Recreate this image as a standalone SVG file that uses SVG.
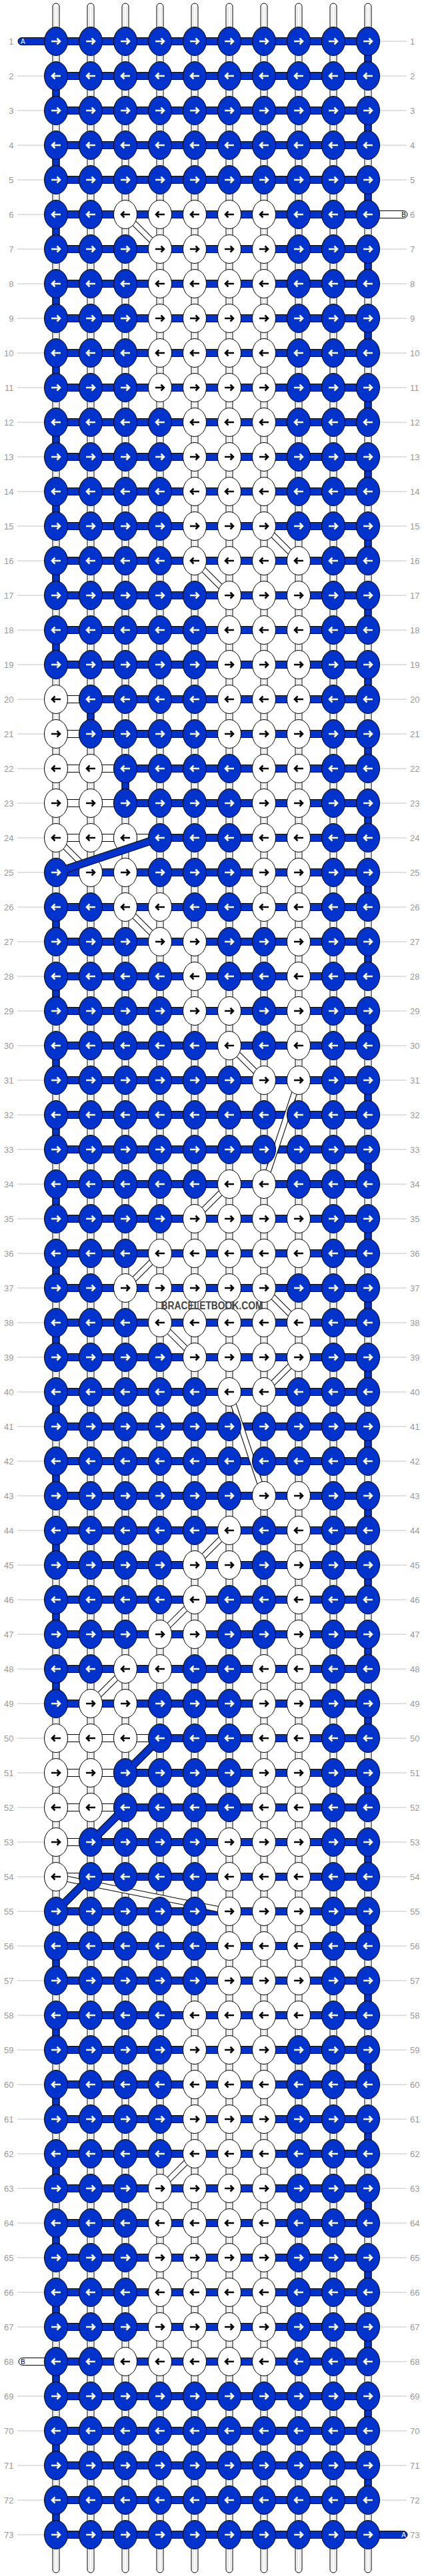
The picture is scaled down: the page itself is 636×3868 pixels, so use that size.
<svg xmlns="http://www.w3.org/2000/svg" width="636" height="3868" viewBox="0 0 636 3868">
<style>
.n{font-family:"Liberation Sans",Arial,sans-serif;font-size:13px;fill:#9a9a9a}
.e{text-anchor:end}
.ln{stroke:#c4c4c4;stroke-width:1;fill:none}
.blue{fill:#0033cc;stroke:#000;stroke-width:1}
.wt{fill:#fff;stroke:#000;stroke-width:1}
.tl{font-family:"Liberation Sans",Arial,sans-serif;font-size:10px}
</style>
<defs>
<path id="ar" d="M-7,0H6M1.5,-4.5L6,0L1.5,4.5" fill="none" stroke-width="2.6"/>
<g id="a"><ellipse rx="17.5" ry="21.5" class="blue"/><use href="#ar" stroke="#fff"/></g>
<g id="b"><ellipse rx="17.5" ry="21.5" class="blue"/><use href="#ar" stroke="#fff" transform="scale(-1,1)"/></g>
<g id="c"><ellipse rx="17.5" ry="21.5" class="wt"/><use href="#ar" stroke="#000"/></g>
<g id="d"><ellipse rx="17.5" ry="21.5" class="wt"/><use href="#ar" stroke="#000" transform="scale(-1,1)"/></g>
<g id="ra"><use href="#a" x="84"/><use href="#a" x="136"/><use href="#a" x="188"/><use href="#a" x="240"/><use href="#a" x="292"/><use href="#a" x="344"/><use href="#a" x="396"/><use href="#a" x="448"/><use href="#a" x="500"/><use href="#a" x="552"/></g>
<g id="rb"><use href="#b" x="84"/><use href="#b" x="136"/><use href="#b" x="188"/><use href="#b" x="240"/><use href="#b" x="292"/><use href="#b" x="344"/><use href="#b" x="396"/><use href="#b" x="448"/><use href="#b" x="500"/><use href="#b" x="552"/></g>
<path id="L" class="ln" d="M26,0H66M570,0H610"/>
<path id="dg" fill="none" d="M188,322L240,374M396,790L448,842M292,842L344,894M84,1258L136,1310M188,1362L240,1414M344,1570L396,1622M448,1622L396,1778M344,1778L292,1830M240,1882L188,1934M396,1934L448,1986M240,1986L292,2038M448,2038L396,2090M344,2090L396,2246M344,2298L292,2350M292,2402L240,2454M188,2506L136,2558M84,2818L344,2870M292,3234L240,3286"/>
<path id="tk" fill="none" d="M225,1263L99,1305M227.8,2622.2L200.2,2649.8M175.8,2726.2L148.2,2753.8M123.8,2830.2L96.2,2857.8"/>
</defs>
<rect width="636" height="3868" fill="#fff"/>
<g id="connectors">
<g id="vertical-threads">
<rect class="wt" x="79" y="5" width="10" height="3858" rx="5"/>
<rect class="wt" x="131" y="5" width="10" height="3858" rx="5"/>
<rect class="wt" x="183" y="5" width="10" height="3858" rx="5"/>
<rect class="wt" x="235" y="5" width="10" height="3858" rx="5"/>
<rect class="wt" x="287" y="5" width="10" height="3858" rx="5"/>
<rect class="wt" x="339" y="5" width="10" height="3858" rx="5"/>
<rect class="wt" x="391" y="5" width="10" height="3858" rx="5"/>
<rect class="wt" x="443" y="5" width="10" height="3858" rx="5"/>
<rect class="wt" x="495" y="5" width="10" height="3858" rx="5"/>
<rect class="wt" x="547" y="5" width="10" height="3858" rx="5"/>
<path stroke="#d0d0d0" stroke-width="1" fill="none" d="M82,10V3858M86,10V3858M134,10V3858M138,10V3858M186,10V3858M190,10V3858M238,10V3858M242,10V3858M290,10V3858M294,10V3858M342,10V3858M346,10V3858M394,10V3858M398,10V3858M446,10V3858M450,10V3858M498,10V3858M502,10V3858M550,10V3858M554,10V3858"/>
</g>
<g id="turns">
<path class="blue" d="M547,78h10v20h-10zm0,104h10v20h-10zm0,104h10v20h-10zm0,104h10v20h-10zm0,104h10v20h-10zm0,104h10v20h-10zm0,104h10v20h-10zm0,104h10v20h-10zm0,104h10v20h-10zm0,104h10v20h-10zm0,104h10v20h-10zm0,104h10v20h-10zm0,104h10v20h-10zm0,104h10v20h-10zm0,104h10v20h-10zm0,104h10v20h-10zm0,104h10v20h-10zm0,104h10v20h-10zm0,104h10v20h-10zm0,104h10v20h-10zm0,104h10v20h-10zm0,104h10v20h-10zm0,104h10v20h-10zm0,104h10v20h-10zm0,104h10v20h-10zm0,104h10v20h-10zm0,104h10v20h-10zm0,104h10v20h-10zm0,104h10v20h-10zm0,104h10v20h-10zm0,104h10v20h-10zm0,104h10v20h-10zm0,104h10v20h-10zm0,104h10v20h-10zm0,104h10v20h-10zm0,104h10v20h-10z"/>
<path class="blue" d="M79,130h10v20h-10zm0,104h10v20h-10zm0,104h10v20h-10zm0,104h10v20h-10zm0,104h10v20h-10zm0,104h10v20h-10zm0,104h10v20h-10zm0,104h10v20h-10zm0,104h10v20h-10zM131,1066h10v20h-10zM183,1170h10v20h-10zM79,1378h10v20h-10zm0,104h10v20h-10zm0,104h10v20h-10zm0,104h10v20h-10zm0,104h10v20h-10zm0,104h10v20h-10zm0,104h10v20h-10zm0,104h10v20h-10zm0,104h10v20h-10zm0,104h10v20h-10zm0,104h10v20h-10zm0,104h10v20h-10zM79,2938h10v20h-10zm0,104h10v20h-10zm0,104h10v20h-10zm0,104h10v20h-10zm0,104h10v20h-10zm0,104h10v20h-10zm0,104h10v20h-10zm0,104h10v20h-10zm0,104h10v20h-10z"/>
</g>
<g id="row-threads">
<path class="blue" d="M84,56.5h468v11h-468zm0,52h468v11h-468zm0,52h468v11h-468zm0,52h468v11h-468zm0,52h468v11h-468zm0,52h468v11h-468zm0,52h468v11h-468zm0,52h468v11h-468zm0,52h468v11h-468zm0,52h468v11h-468zm0,52h468v11h-468zm0,52h468v11h-468zm0,52h468v11h-468zm0,52h468v11h-468zm0,52h468v11h-468zm0,52h468v11h-468zm0,52h468v11h-468zm0,52h468v11h-468zm0,52h468v11h-468zm0,52h468v11h-468zm0,52h468v11h-468zm0,52h468v11h-468zm0,52h468v11h-468zm0,52h468v11h-468zm0,52h468v11h-468zm0,52h468v11h-468zm0,52h468v11h-468zm0,52h468v11h-468zm0,52h468v11h-468zm0,52h468v11h-468zm0,52h468v11h-468zm0,52h468v11h-468zm0,52h468v11h-468zm0,52h468v11h-468zm0,52h468v11h-468zm0,52h468v11h-468zm0,52h468v11h-468zm0,52h468v11h-468zm0,52h468v11h-468zm0,52h468v11h-468zm0,52h468v11h-468zm0,52h468v11h-468zm0,52h468v11h-468zm0,52h468v11h-468zm0,52h468v11h-468zm0,52h468v11h-468zm0,52h468v11h-468zm0,52h468v11h-468zm0,52h468v11h-468zm0,52h468v11h-468zm0,52h468v11h-468zm0,52h468v11h-468zm0,52h468v11h-468zm0,52h468v11h-468zm0,52h468v11h-468zm0,52h468v11h-468zm0,52h468v11h-468zm0,52h468v11h-468zm0,52h468v11h-468zm0,52h468v11h-468zm0,52h468v11h-468zm0,52h468v11h-468zm0,52h468v11h-468zm0,52h468v11h-468zm0,52h468v11h-468zm0,52h468v11h-468zm0,52h468v11h-468zm0,52h468v11h-468zm0,52h468v11h-468zm0,52h468v11h-468zm0,52h468v11h-468zm0,52h468v11h-468zm0,52h468v11h-468z"/>
<path class="wt" d="M84,1044.5h52v11h-52zM84,1096.5h52v11h-52zM84,1148.5h104v11h-104zM84,1200.5h104v11h-104zM84,1252.5h156v11h-156zM84,2604.5h156v11h-156zM84,2656.5h104v11h-104zM84,2708.5h104v11h-104zM84,2760.5h52v11h-52zM84,2812.5h52v11h-52z"/>
<g id="thread-A-start"><rect class="blue" x="27" y="56.5" width="53" height="11" rx="5.5"/><text class="tl" x="31" y="65.5" fill="#fff">A</text></g>
<g id="thread-B-right"><rect class="wt" x="556" y="316.5" width="55" height="11" rx="5.5"/><text class="tl" x="609" y="325.5" text-anchor="end" fill="#000">B</text></g>
<g id="thread-B-left"><rect class="wt" x="28" y="3540.5" width="52" height="11" rx="5.5"/><text class="tl" x="31" y="3549.5" fill="#000">B</text></g>
<g id="thread-A-end"><rect class="blue" x="556" y="3800.5" width="55" height="11" rx="5.5"/><text class="tl" x="609" y="3809.5" text-anchor="end" fill="#fff">A</text></g>
</g>
<g id="diagonals"><use href="#dg" stroke="#000" stroke-width="9"/><use href="#dg" stroke="#fff" stroke-width="7"/></g>
</g>
<g id="knots">
<g id="r1" transform="translate(0,62)"><path class="ln" d="M570,0H610"/><text class="n e" x="20.5" y="4.5">1</text><text class="n" x="615" y="4.5">1</text><use href="#ra"/></g>
<g id="r2" transform="translate(0,114)"><use href="#L"/><text class="n e" x="20.5" y="4.5">2</text><text class="n" x="615" y="4.5">2</text><use href="#rb"/></g>
<g id="r3" transform="translate(0,166)"><use href="#L"/><text class="n e" x="20.5" y="4.5">3</text><text class="n" x="615" y="4.5">3</text><use href="#ra"/></g>
<g id="r4" transform="translate(0,218)"><use href="#L"/><text class="n e" x="20.5" y="4.5">4</text><text class="n" x="615" y="4.5">4</text><use href="#rb"/></g>
<g id="r5" transform="translate(0,270)"><use href="#L"/><text class="n e" x="20.5" y="4.5">5</text><text class="n" x="615" y="4.5">5</text><use href="#ra"/></g>
<g id="r6" transform="translate(0,322)"><path class="ln" d="M26,0H66"/><text class="n e" x="20.5" y="4.5">6</text><text class="n" x="615" y="4.5">6</text><use href="#b" x="84"/><use href="#b" x="136"/><use href="#d" x="188"/><use href="#d" x="240"/><use href="#d" x="292"/><use href="#d" x="344"/><use href="#d" x="396"/><use href="#b" x="448"/><use href="#b" x="500"/><use href="#b" x="552"/></g>
<g id="r7" transform="translate(0,374)"><use href="#L"/><text class="n e" x="20.5" y="4.5">7</text><text class="n" x="615" y="4.5">7</text><use href="#a" x="84"/><use href="#a" x="136"/><use href="#a" x="188"/><use href="#c" x="240"/><use href="#c" x="292"/><use href="#c" x="344"/><use href="#c" x="396"/><use href="#a" x="448"/><use href="#a" x="500"/><use href="#a" x="552"/></g>
<g id="r8" transform="translate(0,426)"><use href="#L"/><text class="n e" x="20.5" y="4.5">8</text><text class="n" x="615" y="4.5">8</text><use href="#b" x="84"/><use href="#b" x="136"/><use href="#b" x="188"/><use href="#d" x="240"/><use href="#d" x="292"/><use href="#d" x="344"/><use href="#d" x="396"/><use href="#b" x="448"/><use href="#b" x="500"/><use href="#b" x="552"/></g>
<g id="r9" transform="translate(0,478)"><use href="#L"/><text class="n e" x="20.5" y="4.5">9</text><text class="n" x="615" y="4.5">9</text><use href="#a" x="84"/><use href="#a" x="136"/><use href="#a" x="188"/><use href="#c" x="240"/><use href="#c" x="292"/><use href="#c" x="344"/><use href="#c" x="396"/><use href="#a" x="448"/><use href="#a" x="500"/><use href="#a" x="552"/></g>
<g id="r10" transform="translate(0,530)"><use href="#L"/><text class="n e" x="20.5" y="4.5">10</text><text class="n" x="615" y="4.5">10</text><use href="#b" x="84"/><use href="#b" x="136"/><use href="#b" x="188"/><use href="#d" x="240"/><use href="#d" x="292"/><use href="#d" x="344"/><use href="#d" x="396"/><use href="#b" x="448"/><use href="#b" x="500"/><use href="#b" x="552"/></g>
<g id="r11" transform="translate(0,582)"><use href="#L"/><text class="n e" x="20.5" y="4.5">11</text><text class="n" x="615" y="4.5">11</text><use href="#a" x="84"/><use href="#a" x="136"/><use href="#a" x="188"/><use href="#c" x="240"/><use href="#c" x="292"/><use href="#c" x="344"/><use href="#c" x="396"/><use href="#a" x="448"/><use href="#a" x="500"/><use href="#a" x="552"/></g>
<g id="r12" transform="translate(0,634)"><use href="#L"/><text class="n e" x="20.5" y="4.5">12</text><text class="n" x="615" y="4.5">12</text><use href="#b" x="84"/><use href="#b" x="136"/><use href="#b" x="188"/><use href="#b" x="240"/><use href="#d" x="292"/><use href="#d" x="344"/><use href="#d" x="396"/><use href="#b" x="448"/><use href="#b" x="500"/><use href="#b" x="552"/></g>
<g id="r13" transform="translate(0,686)"><use href="#L"/><text class="n e" x="20.5" y="4.5">13</text><text class="n" x="615" y="4.5">13</text><use href="#a" x="84"/><use href="#a" x="136"/><use href="#a" x="188"/><use href="#a" x="240"/><use href="#c" x="292"/><use href="#c" x="344"/><use href="#c" x="396"/><use href="#a" x="448"/><use href="#a" x="500"/><use href="#a" x="552"/></g>
<g id="r14" transform="translate(0,738)"><use href="#L"/><text class="n e" x="20.5" y="4.5">14</text><text class="n" x="615" y="4.5">14</text><use href="#b" x="84"/><use href="#b" x="136"/><use href="#b" x="188"/><use href="#b" x="240"/><use href="#d" x="292"/><use href="#d" x="344"/><use href="#d" x="396"/><use href="#b" x="448"/><use href="#b" x="500"/><use href="#b" x="552"/></g>
<g id="r15" transform="translate(0,790)"><use href="#L"/><text class="n e" x="20.5" y="4.5">15</text><text class="n" x="615" y="4.5">15</text><use href="#a" x="84"/><use href="#a" x="136"/><use href="#a" x="188"/><use href="#a" x="240"/><use href="#c" x="292"/><use href="#c" x="344"/><use href="#c" x="396"/><use href="#a" x="448"/><use href="#a" x="500"/><use href="#a" x="552"/></g>
<g id="r16" transform="translate(0,842)"><use href="#L"/><text class="n e" x="20.5" y="4.5">16</text><text class="n" x="615" y="4.5">16</text><use href="#b" x="84"/><use href="#b" x="136"/><use href="#b" x="188"/><use href="#b" x="240"/><use href="#d" x="292"/><use href="#d" x="344"/><use href="#d" x="396"/><use href="#d" x="448"/><use href="#b" x="500"/><use href="#b" x="552"/></g>
<g id="r17" transform="translate(0,894)"><use href="#L"/><text class="n e" x="20.5" y="4.5">17</text><text class="n" x="615" y="4.5">17</text><use href="#a" x="84"/><use href="#a" x="136"/><use href="#a" x="188"/><use href="#a" x="240"/><use href="#a" x="292"/><use href="#c" x="344"/><use href="#c" x="396"/><use href="#c" x="448"/><use href="#a" x="500"/><use href="#a" x="552"/></g>
<g id="r18" transform="translate(0,946)"><use href="#L"/><text class="n e" x="20.5" y="4.5">18</text><text class="n" x="615" y="4.5">18</text><use href="#b" x="84"/><use href="#b" x="136"/><use href="#b" x="188"/><use href="#b" x="240"/><use href="#b" x="292"/><use href="#d" x="344"/><use href="#d" x="396"/><use href="#d" x="448"/><use href="#b" x="500"/><use href="#b" x="552"/></g>
<g id="r19" transform="translate(0,998)"><use href="#L"/><text class="n e" x="20.5" y="4.5">19</text><text class="n" x="615" y="4.5">19</text><use href="#a" x="84"/><use href="#a" x="136"/><use href="#a" x="188"/><use href="#a" x="240"/><use href="#a" x="292"/><use href="#c" x="344"/><use href="#c" x="396"/><use href="#c" x="448"/><use href="#a" x="500"/><use href="#a" x="552"/></g>
<g id="r20" transform="translate(0,1050)"><use href="#L"/><text class="n e" x="20.5" y="4.5">20</text><text class="n" x="615" y="4.5">20</text><use href="#d" x="84"/><use href="#b" x="136"/><use href="#b" x="188"/><use href="#b" x="240"/><use href="#b" x="292"/><use href="#d" x="344"/><use href="#d" x="396"/><use href="#d" x="448"/><use href="#b" x="500"/><use href="#b" x="552"/></g>
<g id="r21" transform="translate(0,1102)"><use href="#L"/><text class="n e" x="20.5" y="4.5">21</text><text class="n" x="615" y="4.5">21</text><use href="#c" x="84"/><use href="#a" x="136"/><use href="#a" x="188"/><use href="#a" x="240"/><use href="#a" x="292"/><use href="#c" x="344"/><use href="#c" x="396"/><use href="#c" x="448"/><use href="#a" x="500"/><use href="#a" x="552"/></g>
<g id="r22" transform="translate(0,1154)"><use href="#L"/><text class="n e" x="20.5" y="4.5">22</text><text class="n" x="615" y="4.5">22</text><use href="#d" x="84"/><use href="#d" x="136"/><use href="#b" x="188"/><use href="#b" x="240"/><use href="#b" x="292"/><use href="#b" x="344"/><use href="#d" x="396"/><use href="#d" x="448"/><use href="#b" x="500"/><use href="#b" x="552"/></g>
<g id="r23" transform="translate(0,1206)"><use href="#L"/><text class="n e" x="20.5" y="4.5">23</text><text class="n" x="615" y="4.5">23</text><use href="#c" x="84"/><use href="#c" x="136"/><use href="#a" x="188"/><use href="#a" x="240"/><use href="#a" x="292"/><use href="#a" x="344"/><use href="#c" x="396"/><use href="#c" x="448"/><use href="#a" x="500"/><use href="#a" x="552"/></g>
<g id="r24" transform="translate(0,1258)"><use href="#L"/><text class="n e" x="20.5" y="4.5">24</text><text class="n" x="615" y="4.5">24</text><use href="#d" x="84"/><use href="#d" x="136"/><use href="#d" x="188"/><use href="#b" x="240"/><use href="#b" x="292"/><use href="#b" x="344"/><use href="#d" x="396"/><use href="#d" x="448"/><use href="#b" x="500"/><use href="#b" x="552"/></g>
<g id="r25" transform="translate(0,1310)"><use href="#L"/><text class="n e" x="20.5" y="4.5">25</text><text class="n" x="615" y="4.5">25</text><use href="#a" x="84"/><use href="#c" x="136"/><use href="#c" x="188"/><use href="#a" x="240"/><use href="#a" x="292"/><use href="#a" x="344"/><use href="#c" x="396"/><use href="#c" x="448"/><use href="#a" x="500"/><use href="#a" x="552"/></g>
<g id="r26" transform="translate(0,1362)"><use href="#L"/><text class="n e" x="20.5" y="4.5">26</text><text class="n" x="615" y="4.5">26</text><use href="#b" x="84"/><use href="#b" x="136"/><use href="#d" x="188"/><use href="#d" x="240"/><use href="#b" x="292"/><use href="#b" x="344"/><use href="#d" x="396"/><use href="#d" x="448"/><use href="#b" x="500"/><use href="#b" x="552"/></g>
<g id="r27" transform="translate(0,1414)"><use href="#L"/><text class="n e" x="20.5" y="4.5">27</text><text class="n" x="615" y="4.5">27</text><use href="#a" x="84"/><use href="#a" x="136"/><use href="#a" x="188"/><use href="#c" x="240"/><use href="#c" x="292"/><use href="#a" x="344"/><use href="#a" x="396"/><use href="#c" x="448"/><use href="#a" x="500"/><use href="#a" x="552"/></g>
<g id="r28" transform="translate(0,1466)"><use href="#L"/><text class="n e" x="20.5" y="4.5">28</text><text class="n" x="615" y="4.5">28</text><use href="#b" x="84"/><use href="#b" x="136"/><use href="#b" x="188"/><use href="#b" x="240"/><use href="#d" x="292"/><use href="#b" x="344"/><use href="#b" x="396"/><use href="#d" x="448"/><use href="#b" x="500"/><use href="#b" x="552"/></g>
<g id="r29" transform="translate(0,1518)"><use href="#L"/><text class="n e" x="20.5" y="4.5">29</text><text class="n" x="615" y="4.5">29</text><use href="#a" x="84"/><use href="#a" x="136"/><use href="#a" x="188"/><use href="#a" x="240"/><use href="#c" x="292"/><use href="#c" x="344"/><use href="#a" x="396"/><use href="#c" x="448"/><use href="#a" x="500"/><use href="#a" x="552"/></g>
<g id="r30" transform="translate(0,1570)"><use href="#L"/><text class="n e" x="20.5" y="4.5">30</text><text class="n" x="615" y="4.5">30</text><use href="#b" x="84"/><use href="#b" x="136"/><use href="#b" x="188"/><use href="#b" x="240"/><use href="#b" x="292"/><use href="#d" x="344"/><use href="#b" x="396"/><use href="#d" x="448"/><use href="#b" x="500"/><use href="#b" x="552"/></g>
<g id="r31" transform="translate(0,1622)"><use href="#L"/><text class="n e" x="20.5" y="4.5">31</text><text class="n" x="615" y="4.5">31</text><use href="#a" x="84"/><use href="#a" x="136"/><use href="#a" x="188"/><use href="#a" x="240"/><use href="#a" x="292"/><use href="#a" x="344"/><use href="#c" x="396"/><use href="#c" x="448"/><use href="#a" x="500"/><use href="#a" x="552"/></g>
<g id="r32" transform="translate(0,1674)"><use href="#L"/><text class="n e" x="20.5" y="4.5">32</text><text class="n" x="615" y="4.5">32</text><use href="#rb"/></g>
<g id="r33" transform="translate(0,1726)"><use href="#L"/><text class="n e" x="20.5" y="4.5">33</text><text class="n" x="615" y="4.5">33</text><use href="#ra"/></g>
<g id="r34" transform="translate(0,1778)"><use href="#L"/><text class="n e" x="20.5" y="4.5">34</text><text class="n" x="615" y="4.5">34</text><use href="#b" x="84"/><use href="#b" x="136"/><use href="#b" x="188"/><use href="#b" x="240"/><use href="#b" x="292"/><use href="#d" x="344"/><use href="#d" x="396"/><use href="#b" x="448"/><use href="#b" x="500"/><use href="#b" x="552"/></g>
<g id="r35" transform="translate(0,1830)"><use href="#L"/><text class="n e" x="20.5" y="4.5">35</text><text class="n" x="615" y="4.5">35</text><use href="#a" x="84"/><use href="#a" x="136"/><use href="#a" x="188"/><use href="#a" x="240"/><use href="#c" x="292"/><use href="#c" x="344"/><use href="#c" x="396"/><use href="#c" x="448"/><use href="#a" x="500"/><use href="#a" x="552"/></g>
<g id="r36" transform="translate(0,1882)"><use href="#L"/><text class="n e" x="20.5" y="4.5">36</text><text class="n" x="615" y="4.5">36</text><use href="#b" x="84"/><use href="#b" x="136"/><use href="#b" x="188"/><use href="#d" x="240"/><use href="#d" x="292"/><use href="#d" x="344"/><use href="#d" x="396"/><use href="#d" x="448"/><use href="#b" x="500"/><use href="#b" x="552"/></g>
<g id="r37" transform="translate(0,1934)"><use href="#L"/><text class="n e" x="20.5" y="4.5">37</text><text class="n" x="615" y="4.5">37</text><use href="#a" x="84"/><use href="#a" x="136"/><use href="#c" x="188"/><use href="#c" x="240"/><use href="#c" x="292"/><use href="#c" x="344"/><use href="#c" x="396"/><use href="#a" x="448"/><use href="#a" x="500"/><use href="#a" x="552"/></g>
<g id="r38" transform="translate(0,1986)"><use href="#L"/><text class="n e" x="20.5" y="4.5">38</text><text class="n" x="615" y="4.5">38</text><use href="#b" x="84"/><use href="#b" x="136"/><use href="#b" x="188"/><use href="#d" x="240"/><use href="#d" x="292"/><use href="#d" x="344"/><use href="#d" x="396"/><use href="#d" x="448"/><use href="#b" x="500"/><use href="#b" x="552"/></g>
<g id="r39" transform="translate(0,2038)"><use href="#L"/><text class="n e" x="20.5" y="4.5">39</text><text class="n" x="615" y="4.5">39</text><use href="#a" x="84"/><use href="#a" x="136"/><use href="#a" x="188"/><use href="#a" x="240"/><use href="#c" x="292"/><use href="#c" x="344"/><use href="#c" x="396"/><use href="#c" x="448"/><use href="#a" x="500"/><use href="#a" x="552"/></g>
<g id="r40" transform="translate(0,2090)"><use href="#L"/><text class="n e" x="20.5" y="4.5">40</text><text class="n" x="615" y="4.5">40</text><use href="#b" x="84"/><use href="#b" x="136"/><use href="#b" x="188"/><use href="#b" x="240"/><use href="#b" x="292"/><use href="#d" x="344"/><use href="#d" x="396"/><use href="#b" x="448"/><use href="#b" x="500"/><use href="#b" x="552"/></g>
<g id="r41" transform="translate(0,2142)"><use href="#L"/><text class="n e" x="20.5" y="4.5">41</text><text class="n" x="615" y="4.5">41</text><use href="#ra"/></g>
<g id="r42" transform="translate(0,2194)"><use href="#L"/><text class="n e" x="20.5" y="4.5">42</text><text class="n" x="615" y="4.5">42</text><use href="#rb"/></g>
<g id="r43" transform="translate(0,2246)"><use href="#L"/><text class="n e" x="20.5" y="4.5">43</text><text class="n" x="615" y="4.5">43</text><use href="#a" x="84"/><use href="#a" x="136"/><use href="#a" x="188"/><use href="#a" x="240"/><use href="#a" x="292"/><use href="#a" x="344"/><use href="#c" x="396"/><use href="#c" x="448"/><use href="#a" x="500"/><use href="#a" x="552"/></g>
<g id="r44" transform="translate(0,2298)"><use href="#L"/><text class="n e" x="20.5" y="4.5">44</text><text class="n" x="615" y="4.5">44</text><use href="#b" x="84"/><use href="#b" x="136"/><use href="#b" x="188"/><use href="#b" x="240"/><use href="#b" x="292"/><use href="#d" x="344"/><use href="#b" x="396"/><use href="#d" x="448"/><use href="#b" x="500"/><use href="#b" x="552"/></g>
<g id="r45" transform="translate(0,2350)"><use href="#L"/><text class="n e" x="20.5" y="4.5">45</text><text class="n" x="615" y="4.5">45</text><use href="#a" x="84"/><use href="#a" x="136"/><use href="#a" x="188"/><use href="#a" x="240"/><use href="#c" x="292"/><use href="#c" x="344"/><use href="#a" x="396"/><use href="#c" x="448"/><use href="#a" x="500"/><use href="#a" x="552"/></g>
<g id="r46" transform="translate(0,2402)"><use href="#L"/><text class="n e" x="20.5" y="4.5">46</text><text class="n" x="615" y="4.5">46</text><use href="#b" x="84"/><use href="#b" x="136"/><use href="#b" x="188"/><use href="#b" x="240"/><use href="#d" x="292"/><use href="#b" x="344"/><use href="#b" x="396"/><use href="#d" x="448"/><use href="#b" x="500"/><use href="#b" x="552"/></g>
<g id="r47" transform="translate(0,2454)"><use href="#L"/><text class="n e" x="20.5" y="4.5">47</text><text class="n" x="615" y="4.5">47</text><use href="#a" x="84"/><use href="#a" x="136"/><use href="#a" x="188"/><use href="#c" x="240"/><use href="#c" x="292"/><use href="#a" x="344"/><use href="#a" x="396"/><use href="#c" x="448"/><use href="#a" x="500"/><use href="#a" x="552"/></g>
<g id="r48" transform="translate(0,2506)"><use href="#L"/><text class="n e" x="20.5" y="4.5">48</text><text class="n" x="615" y="4.5">48</text><use href="#b" x="84"/><use href="#b" x="136"/><use href="#d" x="188"/><use href="#d" x="240"/><use href="#b" x="292"/><use href="#b" x="344"/><use href="#d" x="396"/><use href="#d" x="448"/><use href="#b" x="500"/><use href="#b" x="552"/></g>
<g id="r49" transform="translate(0,2558)"><use href="#L"/><text class="n e" x="20.5" y="4.5">49</text><text class="n" x="615" y="4.5">49</text><use href="#a" x="84"/><use href="#c" x="136"/><use href="#c" x="188"/><use href="#a" x="240"/><use href="#a" x="292"/><use href="#a" x="344"/><use href="#c" x="396"/><use href="#c" x="448"/><use href="#a" x="500"/><use href="#a" x="552"/></g>
<g id="r50" transform="translate(0,2610)"><use href="#L"/><text class="n e" x="20.5" y="4.5">50</text><text class="n" x="615" y="4.5">50</text><use href="#d" x="84"/><use href="#d" x="136"/><use href="#d" x="188"/><use href="#b" x="240"/><use href="#b" x="292"/><use href="#b" x="344"/><use href="#d" x="396"/><use href="#d" x="448"/><use href="#b" x="500"/><use href="#b" x="552"/></g>
<g id="r51" transform="translate(0,2662)"><use href="#L"/><text class="n e" x="20.5" y="4.5">51</text><text class="n" x="615" y="4.5">51</text><use href="#c" x="84"/><use href="#c" x="136"/><use href="#a" x="188"/><use href="#a" x="240"/><use href="#a" x="292"/><use href="#a" x="344"/><use href="#c" x="396"/><use href="#c" x="448"/><use href="#a" x="500"/><use href="#a" x="552"/></g>
<g id="r52" transform="translate(0,2714)"><use href="#L"/><text class="n e" x="20.5" y="4.5">52</text><text class="n" x="615" y="4.5">52</text><use href="#d" x="84"/><use href="#d" x="136"/><use href="#b" x="188"/><use href="#b" x="240"/><use href="#b" x="292"/><use href="#b" x="344"/><use href="#d" x="396"/><use href="#d" x="448"/><use href="#b" x="500"/><use href="#b" x="552"/></g>
<g id="r53" transform="translate(0,2766)"><use href="#L"/><text class="n e" x="20.5" y="4.5">53</text><text class="n" x="615" y="4.5">53</text><use href="#c" x="84"/><use href="#a" x="136"/><use href="#a" x="188"/><use href="#a" x="240"/><use href="#a" x="292"/><use href="#c" x="344"/><use href="#c" x="396"/><use href="#c" x="448"/><use href="#a" x="500"/><use href="#a" x="552"/></g>
<g id="r54" transform="translate(0,2818)"><use href="#L"/><text class="n e" x="20.5" y="4.5">54</text><text class="n" x="615" y="4.5">54</text><use href="#d" x="84"/><use href="#b" x="136"/><use href="#b" x="188"/><use href="#b" x="240"/><use href="#b" x="292"/><use href="#d" x="344"/><use href="#d" x="396"/><use href="#d" x="448"/><use href="#b" x="500"/><use href="#b" x="552"/></g>
<g id="r55" transform="translate(0,2870)"><use href="#L"/><text class="n e" x="20.5" y="4.5">55</text><text class="n" x="615" y="4.5">55</text><use href="#a" x="84"/><use href="#a" x="136"/><use href="#a" x="188"/><use href="#a" x="240"/><use href="#a" x="292"/><use href="#c" x="344"/><use href="#c" x="396"/><use href="#c" x="448"/><use href="#a" x="500"/><use href="#a" x="552"/></g>
<g id="r56" transform="translate(0,2922)"><use href="#L"/><text class="n e" x="20.5" y="4.5">56</text><text class="n" x="615" y="4.5">56</text><use href="#b" x="84"/><use href="#b" x="136"/><use href="#b" x="188"/><use href="#b" x="240"/><use href="#b" x="292"/><use href="#d" x="344"/><use href="#d" x="396"/><use href="#d" x="448"/><use href="#b" x="500"/><use href="#b" x="552"/></g>
<g id="r57" transform="translate(0,2974)"><use href="#L"/><text class="n e" x="20.5" y="4.5">57</text><text class="n" x="615" y="4.5">57</text><use href="#a" x="84"/><use href="#a" x="136"/><use href="#a" x="188"/><use href="#a" x="240"/><use href="#a" x="292"/><use href="#c" x="344"/><use href="#c" x="396"/><use href="#c" x="448"/><use href="#a" x="500"/><use href="#a" x="552"/></g>
<g id="r58" transform="translate(0,3026)"><use href="#L"/><text class="n e" x="20.5" y="4.5">58</text><text class="n" x="615" y="4.5">58</text><use href="#b" x="84"/><use href="#b" x="136"/><use href="#b" x="188"/><use href="#b" x="240"/><use href="#d" x="292"/><use href="#d" x="344"/><use href="#d" x="396"/><use href="#d" x="448"/><use href="#b" x="500"/><use href="#b" x="552"/></g>
<g id="r59" transform="translate(0,3078)"><use href="#L"/><text class="n e" x="20.5" y="4.5">59</text><text class="n" x="615" y="4.5">59</text><use href="#a" x="84"/><use href="#a" x="136"/><use href="#a" x="188"/><use href="#a" x="240"/><use href="#c" x="292"/><use href="#c" x="344"/><use href="#c" x="396"/><use href="#a" x="448"/><use href="#a" x="500"/><use href="#a" x="552"/></g>
<g id="r60" transform="translate(0,3130)"><use href="#L"/><text class="n e" x="20.5" y="4.5">60</text><text class="n" x="615" y="4.5">60</text><use href="#b" x="84"/><use href="#b" x="136"/><use href="#b" x="188"/><use href="#b" x="240"/><use href="#d" x="292"/><use href="#d" x="344"/><use href="#d" x="396"/><use href="#b" x="448"/><use href="#b" x="500"/><use href="#b" x="552"/></g>
<g id="r61" transform="translate(0,3182)"><use href="#L"/><text class="n e" x="20.5" y="4.5">61</text><text class="n" x="615" y="4.5">61</text><use href="#a" x="84"/><use href="#a" x="136"/><use href="#a" x="188"/><use href="#a" x="240"/><use href="#c" x="292"/><use href="#c" x="344"/><use href="#c" x="396"/><use href="#a" x="448"/><use href="#a" x="500"/><use href="#a" x="552"/></g>
<g id="r62" transform="translate(0,3234)"><use href="#L"/><text class="n e" x="20.5" y="4.5">62</text><text class="n" x="615" y="4.5">62</text><use href="#b" x="84"/><use href="#b" x="136"/><use href="#b" x="188"/><use href="#b" x="240"/><use href="#d" x="292"/><use href="#d" x="344"/><use href="#d" x="396"/><use href="#b" x="448"/><use href="#b" x="500"/><use href="#b" x="552"/></g>
<g id="r63" transform="translate(0,3286)"><use href="#L"/><text class="n e" x="20.5" y="4.5">63</text><text class="n" x="615" y="4.5">63</text><use href="#a" x="84"/><use href="#a" x="136"/><use href="#a" x="188"/><use href="#c" x="240"/><use href="#c" x="292"/><use href="#c" x="344"/><use href="#c" x="396"/><use href="#a" x="448"/><use href="#a" x="500"/><use href="#a" x="552"/></g>
<g id="r64" transform="translate(0,3338)"><use href="#L"/><text class="n e" x="20.5" y="4.5">64</text><text class="n" x="615" y="4.5">64</text><use href="#b" x="84"/><use href="#b" x="136"/><use href="#b" x="188"/><use href="#d" x="240"/><use href="#d" x="292"/><use href="#d" x="344"/><use href="#d" x="396"/><use href="#b" x="448"/><use href="#b" x="500"/><use href="#b" x="552"/></g>
<g id="r65" transform="translate(0,3390)"><use href="#L"/><text class="n e" x="20.5" y="4.5">65</text><text class="n" x="615" y="4.5">65</text><use href="#a" x="84"/><use href="#a" x="136"/><use href="#a" x="188"/><use href="#c" x="240"/><use href="#c" x="292"/><use href="#c" x="344"/><use href="#c" x="396"/><use href="#a" x="448"/><use href="#a" x="500"/><use href="#a" x="552"/></g>
<g id="r66" transform="translate(0,3442)"><use href="#L"/><text class="n e" x="20.5" y="4.5">66</text><text class="n" x="615" y="4.5">66</text><use href="#b" x="84"/><use href="#b" x="136"/><use href="#b" x="188"/><use href="#d" x="240"/><use href="#d" x="292"/><use href="#d" x="344"/><use href="#d" x="396"/><use href="#b" x="448"/><use href="#b" x="500"/><use href="#b" x="552"/></g>
<g id="r67" transform="translate(0,3494)"><use href="#L"/><text class="n e" x="20.5" y="4.5">67</text><text class="n" x="615" y="4.5">67</text><use href="#a" x="84"/><use href="#a" x="136"/><use href="#a" x="188"/><use href="#c" x="240"/><use href="#c" x="292"/><use href="#c" x="344"/><use href="#c" x="396"/><use href="#a" x="448"/><use href="#a" x="500"/><use href="#a" x="552"/></g>
<g id="r68" transform="translate(0,3546)"><path class="ln" d="M570,0H610"/><text class="n e" x="20.5" y="4.5">68</text><text class="n" x="615" y="4.5">68</text><use href="#b" x="84"/><use href="#b" x="136"/><use href="#d" x="188"/><use href="#d" x="240"/><use href="#d" x="292"/><use href="#d" x="344"/><use href="#d" x="396"/><use href="#b" x="448"/><use href="#b" x="500"/><use href="#b" x="552"/></g>
<g id="r69" transform="translate(0,3598)"><use href="#L"/><text class="n e" x="20.5" y="4.5">69</text><text class="n" x="615" y="4.5">69</text><use href="#ra"/></g>
<g id="r70" transform="translate(0,3650)"><use href="#L"/><text class="n e" x="20.5" y="4.5">70</text><text class="n" x="615" y="4.5">70</text><use href="#rb"/></g>
<g id="r71" transform="translate(0,3702)"><use href="#L"/><text class="n e" x="20.5" y="4.5">71</text><text class="n" x="615" y="4.5">71</text><use href="#ra"/></g>
<g id="r72" transform="translate(0,3754)"><use href="#L"/><text class="n e" x="20.5" y="4.5">72</text><text class="n" x="615" y="4.5">72</text><use href="#rb"/></g>
<g id="r73" transform="translate(0,3806)"><path class="ln" d="M26,0H66"/><text class="n e" x="20.5" y="4.5">73</text><text class="n" x="615" y="4.5">73</text><use href="#ra"/></g>
</g>
<g id="thick-diagonals"><use href="#tk" stroke="#000" stroke-width="12"/><use href="#tk" stroke="#0033cc" stroke-width="10"/></g>
<text x="318" y="1966" text-anchor="middle" font-family="Liberation Sans, Arial, sans-serif" font-weight="bold" font-size="16" fill="#444" textLength="153" lengthAdjust="spacingAndGlyphs">BRACELETBOOK.COM</text>
</svg>
